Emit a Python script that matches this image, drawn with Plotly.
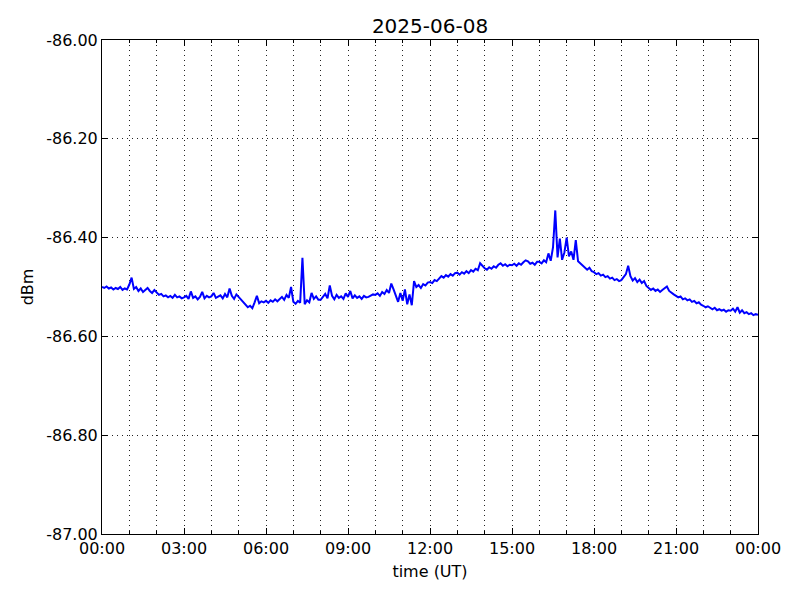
import plotly.graph_objects as go
import pandas as pd

DATE = "2025-06-08"
TITLE = "2025-06-08"

# Signal level (dBm), one value every 5 minutes, one row per hour (00:00 .. 23:55), then 24:00
dbm_values = [
    -86.500, -86.502, -86.499, -86.503, -86.501, -86.505, -86.502, -86.504, -86.500, -86.506, -86.503, -86.505,
    -86.495, -86.481, -86.504, -86.500, -86.508, -86.503, -86.510, -86.505, -86.502, -86.508, -86.512, -86.506,
    -86.512, -86.516, -86.514, -86.519, -86.517, -86.521, -86.518, -86.522, -86.516, -86.521, -86.519, -86.523,
    -86.521, -86.518, -86.524, -86.509, -86.522, -86.519, -86.525, -86.520, -86.510, -86.523, -86.518, -86.521,
    -86.519, -86.512, -86.522, -86.520, -86.517, -86.523, -86.514, -86.521, -86.503, -86.518, -86.524, -86.515,
    -86.520, -86.526, -86.532, -86.536, -86.541, -86.538, -86.543, -86.531, -86.518, -86.533, -86.529, -86.531,
    -86.528, -86.532, -86.527, -86.530, -86.525, -86.529, -86.524, -86.520, -86.526, -86.516, -86.522, -86.500,
    -86.530, -86.534, -86.528, -86.532, -86.441, -86.535, -86.527, -86.531, -86.512, -86.524, -86.519, -86.526,
    -86.526, -86.521, -86.514, -86.523, -86.497, -86.518, -86.525, -86.516, -86.522, -86.519, -86.524, -86.513,
    -86.520, -86.508, -86.523, -86.517, -86.522, -86.519, -86.524, -86.518, -86.521, -86.520, -86.517, -86.515,
    -86.516, -86.513, -86.518, -86.510, -86.514, -86.506, -86.512, -86.493, -86.505, -86.520, -86.530, -86.512,
    -86.528, -86.505, -86.535, -86.515, -86.537, -86.488, -86.500, -86.496, -86.502, -86.494, -86.497, -86.491,
    -86.490, -86.492, -86.486, -86.488, -86.482, -86.478, -86.481, -86.476, -86.479, -86.474, -86.477, -86.472,
    -86.471, -86.475, -86.470, -86.473, -86.468, -86.472, -86.466, -86.469, -86.463, -86.466, -86.452, -86.458,
    -86.462, -86.465, -86.460, -86.463, -86.458, -86.461, -86.455, -86.452, -86.457, -86.454, -86.458, -86.455,
    -86.456, -86.453, -86.457, -86.452, -86.455, -86.450, -86.446, -86.448, -86.453, -86.451, -86.455, -86.449,
    -86.449, -86.452, -86.446, -86.450, -86.432, -86.447, -86.420, -86.345, -86.440, -86.402, -86.445, -86.430,
    -86.400, -86.438, -86.428, -86.445, -86.405, -86.448, -86.452, -86.458, -86.462, -86.465, -86.461, -86.468,
    -86.470, -86.474, -86.472, -86.477, -86.475, -86.480, -86.478, -86.483, -86.481, -86.486, -86.484, -86.488,
    -86.486, -86.480, -86.474, -86.457, -86.478, -86.487, -86.482, -86.490, -86.485, -86.492, -86.488, -86.498,
    -86.502, -86.506, -86.503, -86.508, -86.505, -86.510, -86.506, -86.502, -86.499, -86.508, -86.512, -86.515,
    -86.518, -86.521, -86.519, -86.525, -86.523, -86.527, -86.525, -86.530, -86.528, -86.533, -86.531, -86.536,
    -86.538, -86.541, -86.539, -86.543, -86.545, -86.542, -86.547, -86.545, -86.548, -86.546, -86.550, -86.547,
    -86.548, -86.544, -86.550, -86.541, -86.552, -86.547, -86.553, -86.551, -86.555, -86.553, -86.557, -86.555,
    -86.556,
]

times = pd.date_range(f"{DATE} 00:00", periods=len(dbm_values), freq="5min")

y_tick_values = [-87.0, -86.8, -86.6, -86.4, -86.2, -86.0]
y_tick_labels = ["-87.00", "-86.80", "-86.60", "-86.40", "-86.20", "-86.00"]

font = dict(family="DejaVu Sans", size=16, color="black")
GRID_DASH = "1px,4px"

fig = go.Figure()
fig.add_trace(go.Scatter(x=times, y=dbm_values, mode="lines",
                         line=dict(color="#0000ff", width=2), showlegend=False))

fig.update_layout(
    width=800, height=600,
    margin=dict(l=102, r=42, t=40, b=66),
    paper_bgcolor="white", plot_bgcolor="white",
    font=font,
    title=dict(text=TITLE, x=0.5, xref="paper", xanchor="center",
               y=0.957, yanchor="middle",
               font=dict(family="DejaVu Sans", size=20, color="black")),
)

fig.update_xaxes(
    range=[f"{DATE} 00:00", "2025-06-09 00:00"],
    tick0=f"{DATE} 00:00", dtick=3 * 3600 * 1000, tickformat="%H:%M",
    ticks="inside", ticklen=6, tickcolor="black",
    showline=True, linecolor="black", linewidth=1, mirror="ticks",
    showgrid=True, gridcolor="#222222", griddash=GRID_DASH, gridwidth=1,
    minor=dict(dtick=3600 * 1000, ticks="inside", ticklen=3, tickcolor="black",
               showgrid=True, gridcolor="#222222", griddash=GRID_DASH, gridwidth=1),
    title=dict(text="time (UT)", font=font, standoff=8),
    tickfont=font, zeroline=False,
)

fig.update_yaxes(
    range=[-87.0, -86.0],
    tickvals=y_tick_values, ticktext=y_tick_labels,
    ticks="inside", ticklen=6, tickcolor="black",
    showline=True, linecolor="black", linewidth=1, mirror="ticks",
    showgrid=True, gridcolor="#222222", griddash=GRID_DASH, gridwidth=1,
    title=dict(text="dBm", font=font, standoff=8),
    tickfont=font, zeroline=False,
)

fig.write_html("out.html", config={"displayModeBar": False})

# remove the default page margin so the figure sits at the window origin
with open("out.html", "r", encoding="utf-8") as f:
    html = f.read()
html = html.replace("<head>", "<head><style>body{margin:0;}</style>", 1)
with open("out.html", "w", encoding="utf-8") as f:
    f.write(html)
